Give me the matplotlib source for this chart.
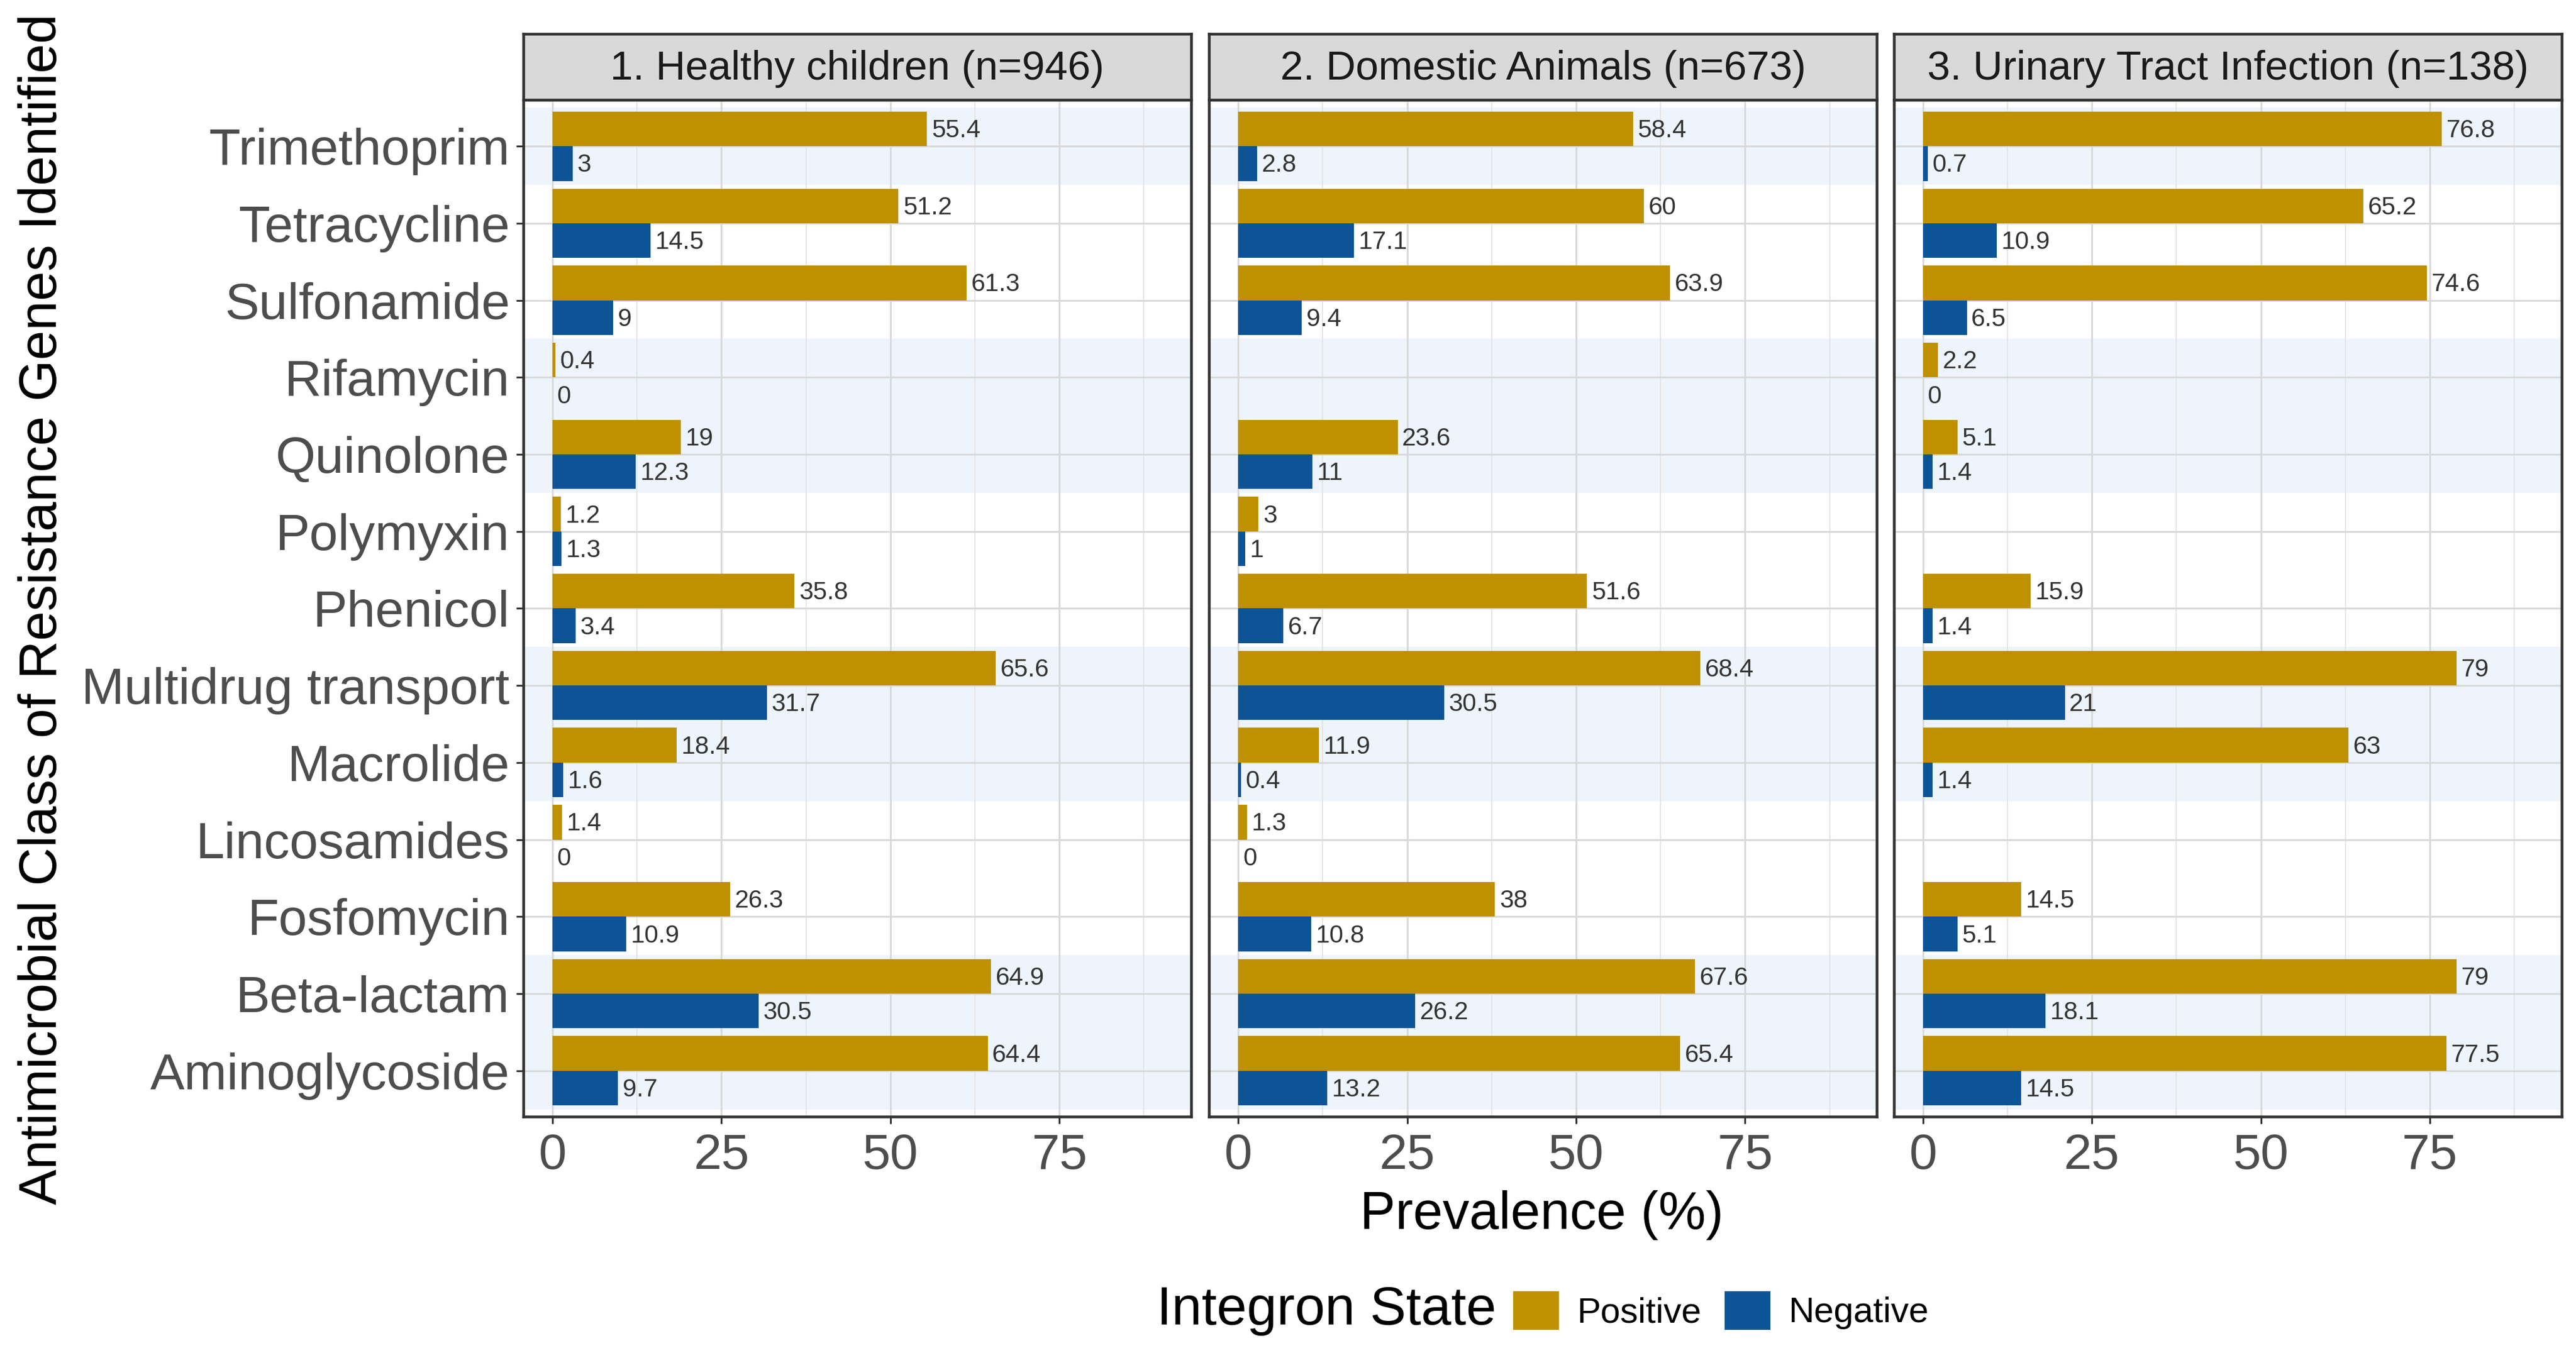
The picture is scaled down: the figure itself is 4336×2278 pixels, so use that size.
import numpy as np
import matplotlib.pyplot as plt
from matplotlib.patches import Patch

plt.rcParams['font.family'] = ['Liberation Sans', 'DejaVu Sans']

# categories from top to bottom
categories = ['Trimethoprim', 'Tetracycline', 'Sulfonamide', 'Rifamycin', 'Quinolone',
              'Polymyxin', 'Phenicol', 'Multidrug transport', 'Macrolide', 'Lincosamides',
              'Fosfomycin', 'Beta-lactam', 'Aminoglycoside']
panel_titles = ['1. Healthy children (n=946)', '2. Domestic Animals (n=673)',
                '3. Urinary Tract Infection (n=138)']
shaded = ['Trimethoprim', 'Rifamycin', 'Quinolone', 'Multidrug transport', 'Macrolide',
          'Beta-lactam', 'Aminoglycoside']

nan = np.nan
healthy_pos = [55.4, 51.2, 61.3, 0.4, 19, 1.2, 35.8, 65.6, 18.4, 1.4, 26.3, 64.9, 64.4]
healthy_neg = [3, 14.5, 9, 0, 12.3, 1.3, 3.4, 31.7, 1.6, 0, 10.9, 30.5, 9.7]
animals_pos = [58.4, 60, 63.9, nan, 23.6, 3, 51.6, 68.4, 11.9, 1.3, 38, 67.6, 65.4]
animals_neg = [2.8, 17.1, 9.4, nan, 11, 1, 6.7, 30.5, 0.4, 0, 10.8, 26.2, 13.2]
uti_pos = [76.8, 65.2, 74.6, 2.2, 5.1, nan, 15.9, 79, 63, nan, 14.5, 79, 77.5]
uti_neg = [0.7, 10.9, 6.5, 0, 1.4, nan, 1.4, 21, 1.4, nan, 5.1, 18.1, 14.5]

positive = [healthy_pos, animals_pos, uti_pos]
negative = [healthy_neg, animals_neg, uti_neg]

gold = '#BF9000'
blue = '#0D5497'
band = '#EDF4FC'

fig = plt.figure(figsize=(4336 / 276.5, 2278 / 276.5), dpi=276.5)

lefts = [0.2032, 0.4694, 0.7352]
width = 0.2592
bottom, top = 0.1745, 0.9261
strip_h = 0.0487

ypos = np.arange(len(categories))[::-1]

for k in range(3):
    ax = fig.add_axes([lefts[k], bottom, width, top - bottom])
    ax.set_xlim(-4.3, 94.5)
    ax.set_ylim(-0.6, len(categories) - 0.4)

    for cat, y in zip(categories, ypos):
        if cat in shaded:
            ax.axhspan(y - 0.5, y + 0.5, color=band, lw=0, zorder=0.2)

    ax.set_xticks([0, 25, 50, 75])
    ax.set_xticks([12.5, 37.5, 62.5, 87.5], minor=True)
    ax.set_yticks(ypos)
    ax.set_axisbelow(True)
    ax.grid(True, which='major', color='#D9D9D9', lw=0.8)
    ax.grid(True, which='minor', axis='x', color='#E4E4E4', lw=0.5)

    for vals, off, col in [(positive[k], 0.225, gold), (negative[k], -0.225, blue)]:
        vals = np.array(vals, dtype=float)
        ok = ~np.isnan(vals)
        ax.barh(ypos[ok] + off, vals[ok], height=0.45, color=col, zorder=2)
        for v, y in zip(vals[ok], ypos[ok]):
            ax.annotate(f'{v:g}', (v, y + off), xytext=(2, -0.8), textcoords='offset points',
                        ha='left', va='center', fontsize=11, color='#333333', zorder=3)

    ax.tick_params(axis='x', which='major', labelsize=22, labelcolor='#4D4D4D',
                   length=3, width=0.8, color='#333333', pad=4)
    ax.tick_params(axis='x', which='minor', length=0)
    if k == 0:
        ax.set_yticklabels(categories)
        ax.tick_params(axis='y', labelsize=22.5, labelcolor='#4D4D4D',
                       length=3, width=0.8, color='#333333', pad=3)
    else:
        ax.tick_params(axis='y', labelleft=False, left=False)
    for sp in ax.spines.values():
        sp.set_color('#333333')
        sp.set_linewidth(1.2)
        sp.set_zorder(4)

    sax = fig.add_axes([lefts[k], top, width, strip_h])
    sax.set_facecolor('#D9D9D9')
    sax.set_xticks([])
    sax.set_yticks([])
    for sp in sax.spines.values():
        sp.set_color('#333333')
        sp.set_linewidth(1.2)
    sax.text(0.5, 0.47, panel_titles[k], transform=sax.transAxes, ha='center', va='center',
             fontsize=18, color='#1A1A1A')

fig.text(0.0166, 0.55, 'Antimicrobial Class of Resistance Genes Identified', rotation=90,
         ha='center', va='center', fontsize=23.3)
fig.text(0.5985, 0.1018, 'Prevalence (%)', ha='center', va='center', fontsize=23.3)

fig.text(0.449, 0.0315, 'Integron State', ha='left', va='center', fontsize=23.7)
handles = [Patch(facecolor=gold, edgecolor='none'), Patch(facecolor=blue, edgecolor='none')]
fig.legend(handles, ['Positive', 'Negative'], ncol=2, loc='center left',
           bbox_to_anchor=(0.5874, 0.0315), frameon=False, fontsize=15.6,
           handlelength=1.29, handleheight=1.29, handletextpad=0.5, columnspacing=0.65,
           borderpad=0, borderaxespad=0)

fig.savefig('out.png', dpi=276.5, facecolor='white')
